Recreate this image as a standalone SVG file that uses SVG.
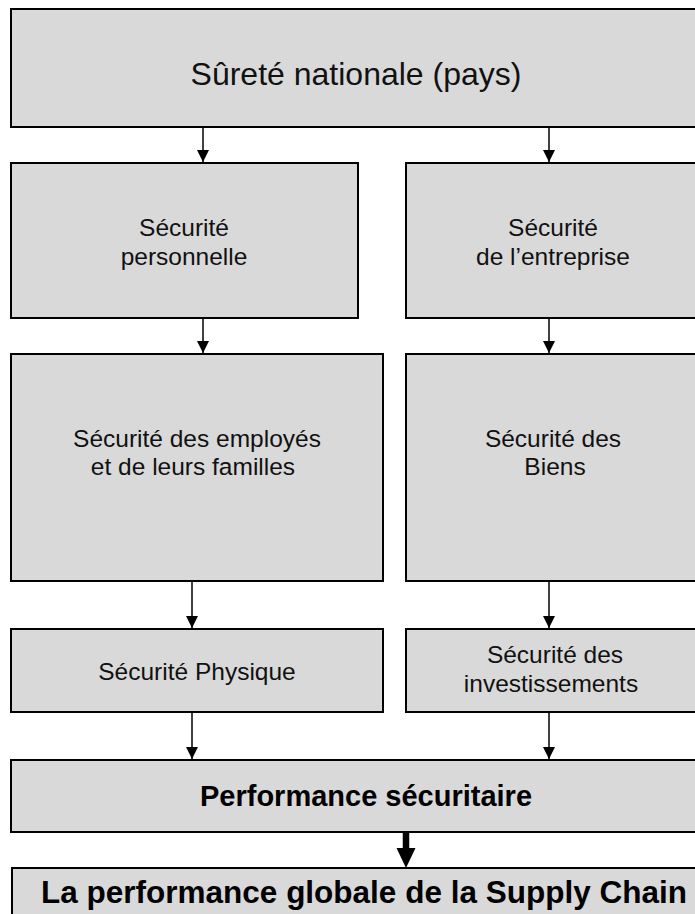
<svg xmlns="http://www.w3.org/2000/svg" width="695" height="914" viewBox="0 0 695 914">
<style>
.box{fill:#d9d9d9;stroke:#000;stroke-width:2}
.t{font-family:"Liberation Sans",Arial,Helvetica,sans-serif;font-size:24.5px;fill:#111;text-anchor:middle}
.b{font-weight:bold;fill:#000}
.c{stroke:#000;stroke-width:1.5;fill:none}
.ck{stroke:#000;stroke-width:6.5;fill:none}
</style>
<defs>
<marker id="ah" markerUnits="userSpaceOnUse" markerWidth="12" markerHeight="13" refX="12" refY="6" orient="auto">
<path d="M0,0 L12,6 L0,12 Z" fill="#000"/>
</marker>
</defs>
<rect width="695" height="914" fill="#fff"/>
<g id="n-surete">
<rect class="box" x="11" y="9" width="700" height="118"/>
<text class="t" x="356" y="85" style="font-size:32px">Sûreté nationale (pays)</text>
</g>
<g id="n-perso">
<rect class="box" x="11" y="163" width="347" height="155"/>
<text class="t" x="184" y="236">Sécurité</text>
<text class="t" x="184" y="265">personnelle</text>
</g>
<g id="n-entreprise">
<rect class="box" x="406" y="163" width="300" height="155"/>
<text class="t" x="553" y="236">Sécurité</text>
<text class="t" x="553" y="265">de l’entreprise</text>
</g>
<g id="n-employes">
<rect class="box" x="11" y="354" width="372" height="227"/>
<text class="t" x="197" y="447">Sécurité des employés</text>
<text class="t" x="193" y="475">et de leurs familles</text>
</g>
<g id="n-biens">
<rect class="box" x="406" y="354" width="300" height="227"/>
<text class="t" x="553" y="447">Sécurité des</text>
<text class="t" x="555" y="475">Biens</text>
</g>
<g id="n-physique">
<rect class="box" x="11" y="629" width="372" height="83"/>
<text class="t" x="197" y="680">Sécurité Physique</text>
</g>
<g id="n-invest">
<rect class="box" x="406" y="629" width="300" height="83"/>
<text class="t" x="555" y="663">Sécurité des</text>
<text class="t" x="551" y="692">investissements</text>
</g>
<g id="n-perf">
<rect class="box" x="11" y="760" width="710" height="72"/>
<text class="t b" x="366" y="806" style="font-size:29px">Performance sécuritaire</text>
</g>
<g id="n-global">
<rect class="box" x="12" y="868" width="710" height="60"/>
<text class="t b" x="364" y="903" style="font-size:31.5px">La performance globale de la Supply Chain</text>
</g>
<g id="connectors">
<line class="c" x1="203" y1="127" x2="203" y2="162" marker-end="url(#ah)"/>
<line class="c" x1="549" y1="127" x2="549" y2="162" marker-end="url(#ah)"/>
<line class="c" x1="203" y1="318" x2="203" y2="353" marker-end="url(#ah)"/>
<line class="c" x1="549" y1="318" x2="549" y2="353" marker-end="url(#ah)"/>
<line class="c" x1="192" y1="581" x2="192" y2="628" marker-end="url(#ah)"/>
<line class="c" x1="549" y1="581" x2="549" y2="628" marker-end="url(#ah)"/>
<line class="c" x1="192" y1="712" x2="192" y2="759" marker-end="url(#ah)"/>
<line class="c" x1="549" y1="712" x2="549" y2="759" marker-end="url(#ah)"/>
<line class="ck" x1="406" y1="833" x2="406" y2="850"/>
<path d="M396.5,848 L415.5,848 L406,868 Z" fill="#000"/>
</g>
</svg>
